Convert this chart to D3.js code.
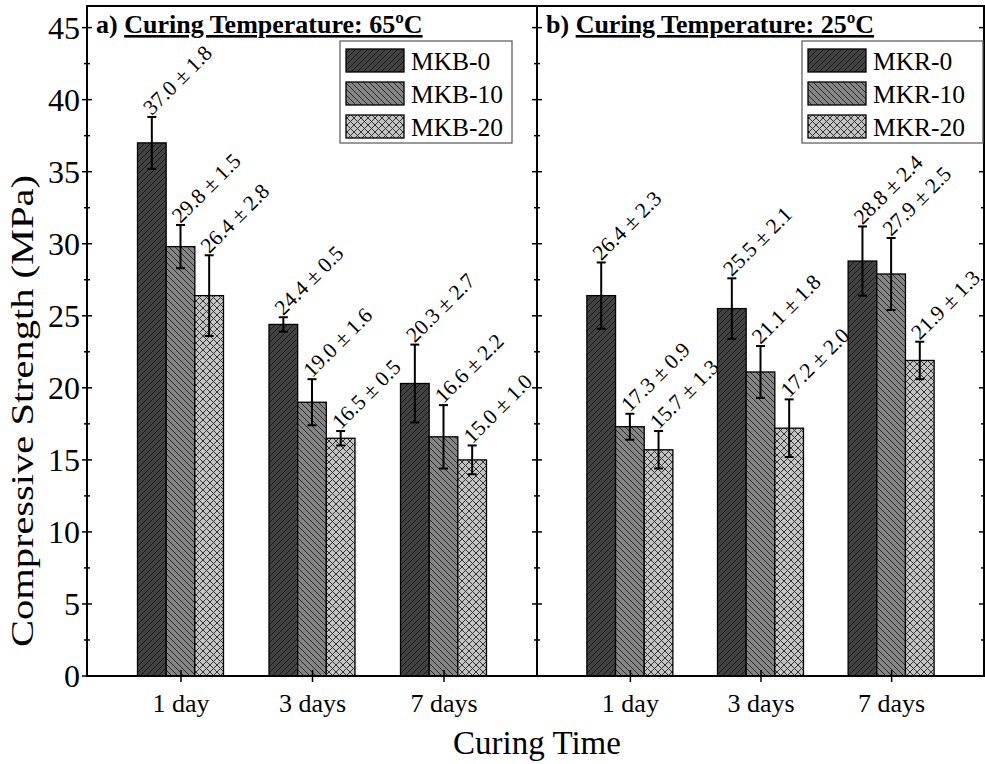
<!DOCTYPE html>
<html>
<head>
<meta charset="utf-8">
<script src="https://cdn.jsdelivr.net/npm/d3@7"></script>
<style>
  body { margin: 0; background: #fff; }
  svg text { font-family: "Liberation Serif", "Times New Roman", serif; fill: #000; }
</style>
</head>
<body>
<svg id="chart" width="985" height="764"></svg>
<script>
// compressive strength of the two mixes, by curing time

const categories = ["1 day", "3 days", "7 days"];
const yTicks = [0, 5, 10, 15, 20, 25, 30, 35, 40, 45];

const seriesA = ["MKB-0", "MKB-10", "MKB-20"];
const meanA = [
  [37.0, 24.4, 20.3],
  [29.8, 19.0, 16.6],
  [26.4, 16.5, 15.0],
];
const errA = [
  [1.8, 0.5, 2.7],
  [1.5, 1.6, 2.2],
  [2.8, 0.5, 1.0],
];

const seriesB = ["MKR-0", "MKR-10", "MKR-20"];
const meanB = [
  [26.4, 25.5, 28.8],
  [17.3, 21.1, 27.9],
  [15.7, 17.2, 21.9],
];
const errB = [
  [2.3, 2.1, 2.4],
  [0.9, 1.8, 2.5],
  [1.3, 2.0, 1.3],
];

const svg = d3.select("#chart");
const plotTop = 6, plotBottom = 676;
const y = d3.scaleLinear().domain([0, 46.5]).range([plotBottom, plotTop]);

// hatch patterns
const defs = svg.append("defs");
function hatch(id, bg, dir, stroke) {
  const p = defs.append("pattern").attr("id", id)
    .attr("patternUnits", "userSpaceOnUse")
    .attr("width", 6).attr("height", 6);
  p.append("rect").attr("width", 6).attr("height", 6).attr("fill", bg);
  const d = dir > 0 ? "M-1,1 l2,-2 M0,6 l6,-6 M5,7 l2,-2" : "M-1,5 l2,2 M0,0 l6,6 M5,-1 l2,2";
  p.append("path").attr("d", d).attr("stroke", stroke).attr("stroke-width", 1);
}
hatch("p0", "#424242", 1, "#1a1a1a");
hatch("p1", "#858585", -1, "#2a2a2a");
{
  const p = defs.append("pattern").attr("id", "p2")
    .attr("patternUnits", "userSpaceOnUse")
    .attr("width", 7).attr("height", 7);
  p.append("rect").attr("width", 7).attr("height", 7).attr("fill", "#c4c4c4");
  p.append("path").attr("d", "M0,0 L7,7 M7,0 L0,7")
    .attr("stroke", "#333").attr("stroke-width", 1);
}
const fills = ["url(#p0)", "url(#p1)", "url(#p2)"];

function panel(x0, x1, names, means, errs, tag, title, legendX, legendW, lastPanel) {
  const x = d3.scalePoint().domain(categories).range([x0, x1]).padding(0.711);
  const inner = d3.scaleBand().domain(d3.range(names.length)).range([-43, 43]);
  const g = svg.append("g");

  const rows = [];
  names.forEach((n, s) => categories.forEach((c, i) => {
    rows.push({ s, c, v: means[s][i], e: errs[s][i] });
  }));

  g.selectAll("rect.bar").data(rows).enter().append("rect")
    .attr("class", "bar")
    .attr("x", d => x(d.c) + inner(d.s))
    .attr("width", inner.bandwidth())
    .attr("y", d => y(d.v))
    .attr("height", d => y(0) - y(d.v))
    .attr("fill", d => fills[d.s])
    .attr("stroke", "#000").attr("stroke-width", 1.3);

  const eb = g.selectAll("g.err").data(rows).enter().append("g")
    .attr("transform", d => `translate(${x(d.c) + inner(d.s) + inner.bandwidth() / 2},0)`)
    .attr("stroke", "#000").attr("stroke-width", 2);
  eb.append("line").attr("y1", d => y(d.v - d.e)).attr("y2", d => y(d.v + d.e));
  eb.append("line").attr("x1", -4.5).attr("x2", 4.5).attr("y1", d => y(d.v + d.e)).attr("y2", d => y(d.v + d.e));
  eb.append("line").attr("x1", -4.5).attr("x2", 4.5).attr("y1", d => y(d.v - d.e)).attr("y2", d => y(d.v - d.e));

  g.selectAll("text.val").data(rows).enter().append("text")
    .attr("class", "val")
    .attr("transform", d => `translate(${x(d.c) + inner(d.s) + inner.bandwidth() / 2},${y(d.v + d.e) - 1}) rotate(-45)`)
    .attr("font-size", 21.5)
    .text(d => `${d.v.toFixed(1)} \u00b1 ${d.e.toFixed(1)}`);

  // frame
  g.append("rect").attr("x", x0).attr("y", plotTop).attr("width", x1 - x0).attr("height", plotBottom - plotTop)
    .attr("fill", "none").attr("stroke", "#000").attr("stroke-width", 2);

  // bottom ticks + labels
  const xa = g.append("g").attr("transform", `translate(0,${plotBottom})`)
    .call(d3.axisBottom(x).tickSize(6).tickPadding(12));
  xa.select(".domain").remove();
  xa.selectAll(".tick line").attr("y1", -6).attr("stroke-width", 1.5);
  xa.selectAll("text").attr("font-size", 26).attr("fill", "#000")
    .style("font-family", "'Liberation Serif', serif");

  // y ticks on left edge (and on right edge for the last panel)
  const minor = d3.range(2.5, 46, 5);
  const tickG = g.append("g").attr("stroke", "#000").attr("stroke-width", 1.5);
  const edges = lastPanel ? [x0, x1] : [x0];
  edges.forEach(ex => {
    tickG.selectAll(null).data(yTicks).enter().append("line")
      .attr("x1", ex - 5).attr("x2", ex + 5).attr("y1", d => y(d)).attr("y2", d => y(d));
    tickG.selectAll(null).data(minor).enter().append("line")
      .attr("x1", ex - 3).attr("x2", ex + 3).attr("y1", d => y(d)).attr("y2", d => y(d));
  });

  // title
  const t = g.append("text").attr("x", x0 + 9).attr("y", 33)
    .attr("font-size", 26).attr("font-weight", "bold");
  t.append("tspan").text(tag + " ");
  t.append("tspan").attr("text-decoration", "underline").text(title);

  // legend
  const lg = g.append("g").attr("transform", `translate(${legendX},41)`);
  lg.append("rect").attr("width", legendW).attr("height", 102)
    .attr("fill", "#fff").attr("stroke", "#555").attr("stroke-width", 1.2);
  names.forEach((n, s) => {
    lg.append("rect").attr("x", 6).attr("y", 8 + s * 33).attr("width", 58).attr("height", 23)
      .attr("fill", fills[s]).attr("stroke", "#000").attr("stroke-width", 1.3);
    lg.append("text").attr("x", 71).attr("y", 29 + s * 33).attr("font-size", 25.5).text(n);
  });
}

panel(87, 537, seriesA, meanA, errA, "a)", "Curing Temperature: 65\u00baC", 340, 172, false);
panel(537, 984, seriesB, meanB, errB, "b)", "Curing Temperature: 25\u00baC", 802, 181, true);

// y axis tick labels
svg.append("g").selectAll("text").data(yTicks).enter().append("text")
  .attr("x", 80).attr("y", d => y(d)).attr("dy", "0.35em")
  .attr("text-anchor", "end").attr("font-size", 32).text(d => d);

svg.append("text").attr("transform", `translate(33,411) rotate(-90)`)
  .attr("text-anchor", "middle").attr("font-size", 32)
  .attr("textLength", 472).attr("lengthAdjust", "spacingAndGlyphs")
  .text("Compressive Strength (MPa)");
svg.append("text").attr("x", 537).attr("y", 754)
  .attr("text-anchor", "middle").attr("font-size", 33).text("Curing Time");
</script>
</body>
</html>
